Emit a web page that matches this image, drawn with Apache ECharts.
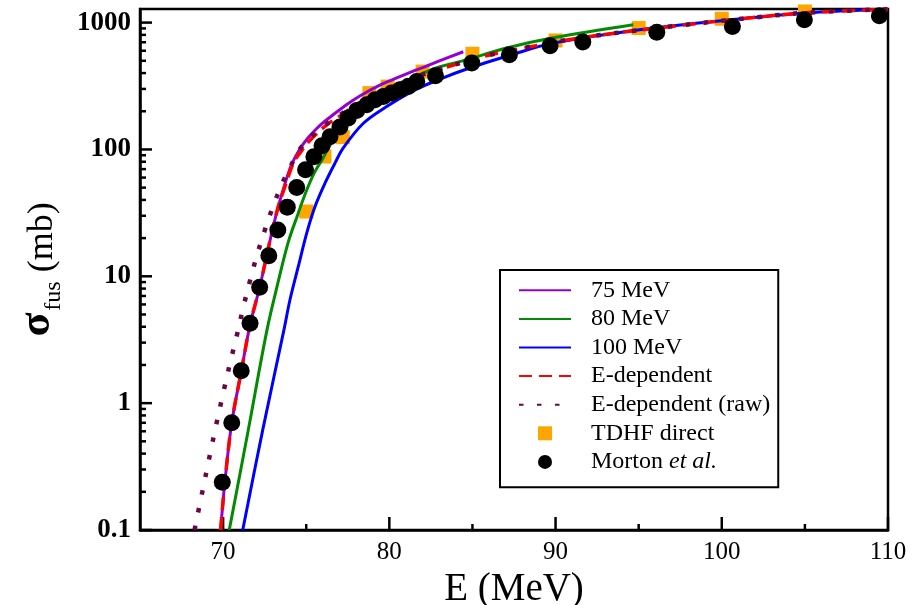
<!DOCTYPE html>
<html><head><meta charset="utf-8">
<script src="https://cdn.jsdelivr.net/npm/echarts@6/dist/echarts.min.js"></script>
<style>html,body{margin:0;padding:0;background:#fff}#c{width:922px;height:605px}</style>
</head><body><div id="c"></div>
<script>
// ---- data (E in MeV, sigma in mb) ----
const e75 = [69.85, 70.1, 70.52, 71.1, 71.62, 72.2, 72.72, 73.2, 73.65, 74.1, 74.6, 75.1, 75.6, 76.1, 77.4, 78.2, 79.4, 80.2, 81.4, 82.2, 83.05, 84.45];
const s75 = [0.1, 0.234, 0.70, 1.80, 4.14, 8.2, 16.7, 30.9, 50, 75, 100, 123, 145, 166, 224, 263, 320, 355, 412, 452, 501, 589];

const e80 = [70.37, 71.5, 72.64, 73.3, 73.92, 74.5, 75.0, 75.5, 76.0, 76.5, 77.0, 78.0, 79.0, 80.0, 81.0, 82.0, 83.0, 84.45, 87.06, 89.86, 94.68];
const s80 = [0.1, 0.60, 3.78, 8.9, 18.6, 30.9, 46.8, 66, 85, 112, 141, 195, 245, 295, 347, 398, 447, 501, 631, 759, 962];

const e100 = [71.18, 72.4, 73.66, 74.02, 74.52, 75.03, 75.53, 76.13, 76.73, 77.23, 78.44, 79.84, 81.44, 83.05, 84.66, 87.2, 89.87, 95.89, 101.9, 105.5, 110];
const s100 = [0.1, 0.63, 3.78, 6.5, 11.9, 21.9, 35.5, 54.2, 78, 103, 161, 218, 290, 359, 431, 550, 689, 906, 1096, 1202, 1274];

const eDep = [69.85, 70.1, 70.52, 71.1, 71.62, 72.2, 72.92, 73.32, 73.72, 74.22, 74.6, 75.2, 76.2, 77.1, 78.0, 79.2, 80.6, 81.4, 83.1, 85.9, 87.9, 91.5, 96.9, 101.9, 105.3, 110];
const sDep = [0.1, 0.234, 0.70, 1.80, 4.14, 8.2, 21.9, 35.5, 50.9, 78, 93, 117, 155, 186, 224, 269, 331, 363, 431, 550, 624, 759, 931, 1096, 1202, 1274];

const eRaw = [68.28, 68.75, 69.17, 69.6, 70.07, 70.5, 70.82, 71.15, 71.58, 72.0, 72.48, 73.0, 73.59, 74.0, 74.52, 75.2, 76.03, 77.03, 78.0, 79.2, 80.6, 82.0, 83.2, 85.9, 87.9, 91.5, 96.9, 101.9, 105.3, 110];
const sRaw = [0.1, 0.20, 0.372, 0.69, 1.31, 2.29, 3.39, 5.25, 8.83, 14.1, 22.5, 35.5, 55.2, 70.8, 96.2, 123, 152, 187, 224, 269, 331, 389, 437, 550, 624, 759, 931, 1096, 1202, 1274];

const eTdhf = [75.0, 76.1, 77.2, 78.8, 79.9, 82.0, 85.0, 90.0, 95.0, 100.0, 105.0];
const sTdhf = [32.4, 88, 125, 278, 313, 411, 568, 723, 906, 1072, 1224];

const eMorton = [69.95, 70.52, 71.09, 71.62, 72.2, 72.75, 73.29, 73.86, 74.43, 74.96, 75.46, 75.95, 76.43, 77.03, 77.53, 78.04, 78.64, 79.14, 79.64, 80.14, 80.64, 81.14, 81.65, 82.78, 84.96, 87.22, 89.67, 91.64, 96.09, 100.64, 104.97, 109.48];
const sMorton = [0.238, 0.70, 1.80, 4.27, 8.2, 14.5, 23.2, 35.1, 50.1, 69.1, 87.5, 106.8, 126, 150, 177, 203, 225, 246, 261, 278, 295, 313, 343, 381, 480, 558, 656, 702, 841, 931, 1052, 1132];

const lineNames = ['75 MeV', '80 MeV', '100 MeV', 'E-dependent', 'E-dependent (raw)'];
const xMajorTicks = [70, 80, 90, 100, 110];
const xMinorTicks = [75, 85, 95, 105];
const yMajorTicks = [0.1, 1, 10, 100, 1000];
const yMinorTicks = [0.2,0.3,0.4,0.5,0.6,0.7,0.8,0.9, 2,3,4,5,6,7,8,9, 20,30,40,50,60,70,80,90, 200,300,400,500,600,700,800,900];
const X_MIN = 65, X_MAX = 110, Y_MIN = 0.1, Y_MAX = 1280;

// ---- chart ----
const FONT = 'Liberation Serif';
const G = {left: 140, right: 34, top: 9, bottom: 75};
const pairs = (xs, ys) => xs.map((x, i) => [x, ys[i]]);
const chart = echarts.init(document.getElementById('c'), null, {renderer: 'canvas'});

function lineSeries(name, xs, ys, color, width, type, z) {
  return {
    name, type: 'line', data: pairs(xs, ys), xAxisIndex: 0, yAxisIndex: 0,
    symbol: 'none', smooth: 0.35, clip: true, z,
    lineStyle: {color, width, type, cap: 'butt'}, itemStyle: {color}
  };
}

const isPow10 = v => { const l = Math.log10(v); return Math.abs(l - Math.round(l)) < 1e-6; };

chart.setOption({
  animation: false,
  backgroundColor: '#fff',
  grid: {left: G.left, right: G.right, top: G.top, bottom: G.bottom, show: true, borderColor: '#000', borderWidth: 2.5,
         backgroundColor: 'transparent', outerBoundsMode: 'none', containLabel: false},
  xAxis: {type: 'value', min: X_MIN, max: X_MAX, interval: 5, position: 'bottom',
     axisLine: {show: true, onZero: false, lineStyle: {color: '#000', width: 2.5}},
     axisTick: {show: false},
     axisLabel: {show: true, customValues: xMajorTicks, color: '#000', fontFamily: FONT, fontSize: 25, margin: 10},
     splitLine: {show: false},
     name: 'E (MeV)', nameLocation: 'middle', nameGap: 29,
     nameTextStyle: {fontFamily: FONT, fontSize: 39, color: '#000'}},
  yAxis: {type: 'log', logBase: 10, min: Y_MIN, max: Y_MAX, position: 'left',
     axisLine: {show: true, onZero: false, lineStyle: {color: '#000', width: 2.5}},
     axisTick: {show: false},
     axisLabel: {show: true, showMaxLabel: false, color: '#000', fontFamily: FONT, fontSize: 27, fontWeight: 'bold', margin: 9,
                 formatter: v => isPow10(v) ? String(+(+v).toPrecision(6)) : ''},
     splitLine: {show: false}, minorTick: {show: false},
     name: '{s|σ}{f|fus}{m| (mb)}', nameLocation: 'middle', nameGap: 76, nameRotate: 90,
     nameTextStyle: {color: '#000', fontFamily: FONT, rich: {
       s: {fontFamily: FONT, fontSize: 44, fontWeight: 'bold', color: '#000', verticalAlign: 'bottom'},
       f: {fontFamily: FONT, fontSize: 24, color: '#000', verticalAlign: 'bottom', padding: [0, 0, -6, 2]},
       m: {fontFamily: FONT, fontSize: 36, color: '#000', verticalAlign: 'bottom'}
     }}},
  legend: {
    orient: 'vertical', left: 500, top: 270, itemWidth: 52, itemHeight: 14, itemGap: 0,
    padding: [6, 8, 11, 18], borderColor: '#000', borderWidth: 2, backgroundColor: '#fff',
    selectedMode: false,
    data: lineNames.map(n => ({name: n, itemStyle: {opacity: 0}}))
      .concat([{name: 'TDHF direct', icon: 'path://M0,0H10V10H0Z'}, {name: 'Morton et al.', icon: 'circle'}]),
    formatter: name => name === 'Morton et al.' ? '{t|Morton }{i|et al.}' : '{t|' + name + '}',
    textStyle: {fontFamily: FONT, fontSize: 24, color: '#000', lineHeight: 28.6,
      rich: {
        t: {fontFamily: FONT, fontSize: 24, color: '#000', lineHeight: 28.6, padding: [0, 0, 0, 15]},
        i: {fontFamily: FONT, fontSize: 24, color: '#000', lineHeight: 28.6, fontStyle: 'italic'}
      }}
  },
  series: [
    {name: 'TDHF direct', type: 'scatter', data: pairs(eTdhf, sTdhf),
     symbol: 'rect', symbolSize: 14, itemStyle: {color: '#ffa500', opacity: 1}, z: 2},
    lineSeries('75 MeV', e75, s75, '#9400d3', 3, 'solid', 3),
    lineSeries('80 MeV', e80, s80, '#008b00', 3, 'solid', 3),
    lineSeries('100 MeV', e100, s100, '#0000ff', 3, 'solid', 3),
    lineSeries('E-dependent', eDep, sDep, '#ff0000', 3.5, [13, 7], 4),
    lineSeries('E-dependent (raw)', eRaw, sRaw, '#670748', 4.5, [4.5, 13.5], 4),
    {name: 'Morton et al.', type: 'scatter', data: pairs(eMorton, sMorton),
     symbol: 'circle', symbolSize: 17, itemStyle: {color: '#000', opacity: 1}, z: 5}
  ]
});

// inward-pointing axis ticks, positioned through the chart's own axis scales
const px = v => chart.convertToPixel({xAxisIndex: 0}, v);
const py = v => chart.convertToPixel({yAxisIndex: 0}, v);
const xEdge = px(X_MIN), yEdge = py(Y_MIN);
const tick = (x1, y1, x2, y2) => ({type: 'line', silent: true, z: 1,
  shape: {x1, y1, x2, y2}, style: {stroke: '#000', lineWidth: 2.5}});
const tickEls = []
  .concat(xMajorTicks.map(v => tick(px(v), yEdge, px(v), yEdge - 13)))
  .concat(xMinorTicks.map(v => tick(px(v), yEdge, px(v), yEdge - 6)))
  .concat(yMajorTicks.map(v => tick(xEdge, py(v), xEdge + 12, py(v))))
  .concat(yMinorTicks.map(v => tick(xEdge, py(v), xEdge + 6, py(v))));
chart.setOption({graphic: {elements: tickEls}});
</script>
</body></html>
